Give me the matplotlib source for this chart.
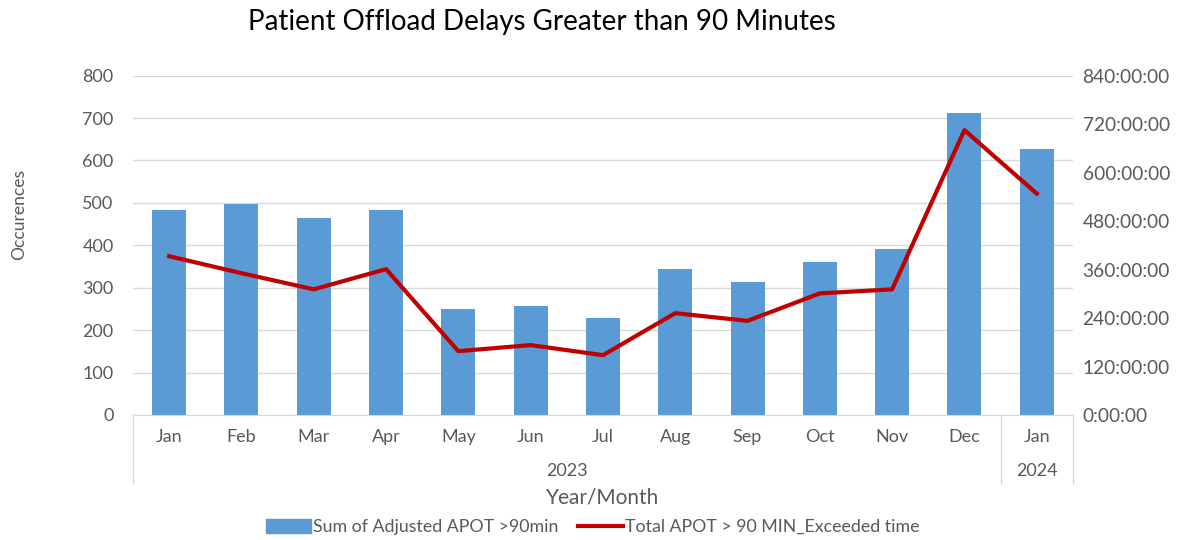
import matplotlib
matplotlib.use("Agg")
import matplotlib.pyplot as plt
from matplotlib.ticker import FuncFormatter, MultipleLocator
from matplotlib.transforms import blended_transform_factory
from matplotlib.patches import Patch
from matplotlib.lines import Line2D

# data
months = ["Jan", "Feb", "Mar", "Apr", "May", "Jun", "Jul", "Aug", "Sep", "Oct", "Nov", "Dec", "Jan"]
years = ["2023", "2024"]
year_counts = [12, 1]
occurrences = [483, 497, 465, 483, 249, 257, 229, 344, 314, 361, 391, 711, 626]
exceeded_hours = [393, 351, 311, 361, 158, 173, 148, 252, 233, 301, 311, 705, 548]

bar_color = "#5B9BD5"
line_color = "#C00000"
text_color = "#595959"
grid_color = "#D9D9D9"

plt.rcParams["font.family"] = ["Lato", "DejaVu Sans"]

fig = plt.figure(figsize=(11.79, 5.4), dpi=100)
ax = fig.add_axes([0.1128, 0.2315, 0.7972, 0.6285])
ax2 = ax.twinx()

x = list(range(len(months)))
ax.bar(x, occurrences, width=0.47, color=bar_color, zorder=2)
ax.set_xlim(-0.5, len(months) - 0.5)
ax.set_ylim(0, 800)
ax.yaxis.set_major_locator(MultipleLocator(100))
ax.grid(axis="y", color=grid_color, linewidth=1)
ax.set_axisbelow(True)

ax2.plot(x, exceeded_hours, color=line_color, linewidth=3, zorder=3)
ax2.set_ylim(0, 840)
ax2.yaxis.set_major_locator(MultipleLocator(120))
ax2.yaxis.set_major_formatter(FuncFormatter(lambda v, p: "0:00:00" if v == 0 else "%d:00:00" % v))

for a in (ax, ax2):
    for s in a.spines.values():
        s.set_visible(False)
    a.tick_params(axis="y", length=0, colors=text_color)
ax.tick_params(axis="y", pad=14, labelsize=13)
ax2.tick_params(axis="y", pad=7, labelsize=13.8)

ax.spines["bottom"].set_visible(True)
ax.spines["bottom"].set_color(grid_color)

ax.set_xticks(x)
ax.set_xticklabels(months)
ax.tick_params(axis="x", length=0, labelsize=13, colors=text_color, pad=10)

# multi-level category axis box
trans = blended_transform_factory(ax.transData, ax.transAxes)
seps = [-0.5]
pos = -0.5
for c in year_counts:
    pos += c
    seps.append(pos)
for s in seps:
    ax.plot([s, s], [0, -0.2], transform=trans, color=grid_color, linewidth=1, clip_on=False)
start = -0.5
for yr, c in zip(years, year_counts):
    ax.text(start + c / 2, -0.165, yr, transform=trans, ha="center", va="center",
            fontsize=13, color=text_color)
    start += c

fig.text(0.016, 0.602, "Occurences", rotation=90, ha="center", va="center", fontsize=12.5, color=text_color)
fig.text(0.511, 0.079, "Year/Month", ha="center", va="center", fontsize=15, color=text_color)
fig.text(0.46, 0.96, "Patient Offload Delays Greater than 90 Minutes", ha="center", va="center",
         fontsize=20, color="black")

handles = [Patch(color=bar_color, label="Sum of Adjusted APOT >90min"),
           Line2D([0], [0], color=line_color, linewidth=3, label="Total APOT > 90 MIN_Exceeded time")]
fig.legend(handles=handles, loc="center", bbox_to_anchor=(0.503, 0.024), ncol=2, frameon=False,
           fontsize=12.8, labelcolor=text_color, handlelength=2.5, handleheight=0.8,
           handletextpad=0.15, columnspacing=1.1)

fig.savefig("out.png", dpi=100)
